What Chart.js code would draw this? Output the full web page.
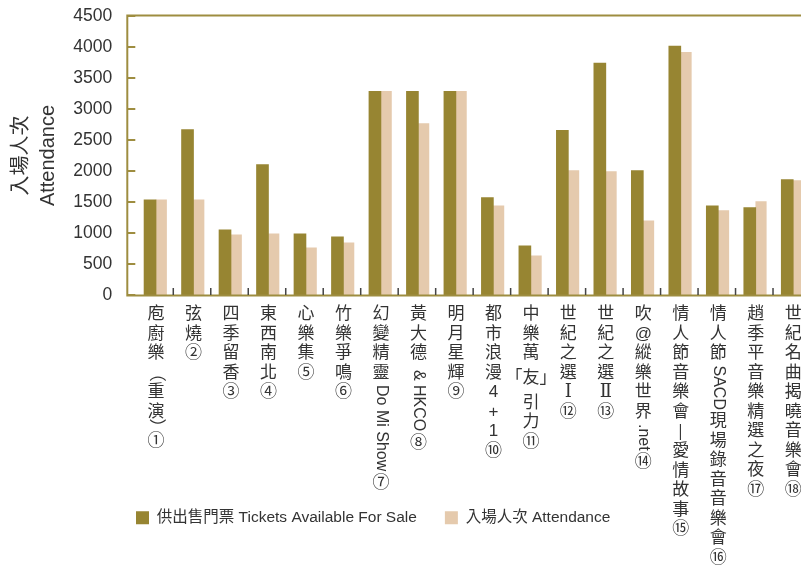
<!DOCTYPE html>
<html lang="zh-Hant">
<head>
<meta charset="utf-8">
<title>入場人次 Attendance</title>
<script src="https://cdn.jsdelivr.net/npm/chart.js@4.4.0/dist/chart.umd.min.js"></script>
<style>
  html, body { margin: 0; padding: 0; background: #fff; overflow: hidden; }
  #wrap { position: relative; width: 812px; height: 567px; }
</style>
</head>
<body>
<div id="wrap"><canvas id="attendanceChart"></canvas></div>
<script>
// ===============================
// 📊 DATA
// ===============================

const categories = [
  "庖廚樂（重演）①", "弦燒②", "四季留香③", "東西南北④", "心樂集⑤", "竹樂爭鳴⑥",
  "幻變精靈Do Mi Show⑦", "黃大德 & HKCO⑧", "明月星輝⑨", "都市浪漫4+1⑩",
  "中樂萬「友」引力⑪", "世紀之選Ⅰ⑫", "世紀之選Ⅱ⑬", "吹@縱樂世界.net⑭",
  "情人節音樂會—愛情故事⑮", "情人節SACD現場錄音音樂會⑯", "趙季平音樂精選之夜⑰", "世紀名曲揭曉音樂會⑱"
];

const ticketsAvailable = [1535, 2670, 1050, 2105, 985, 940, 3285, 3285, 3285, 1570, 795, 2655, 3740, 2005, 4015, 1440, 1410, 1860];
const attendance = [1535, 1535, 970, 985, 760, 840, 3285, 2765, 3285, 1440, 630, 2005, 1990, 1195, 3915, 1360, 1505, 1845];

const seriesNames = ["供出售門票 Tickets Available For Sale", "入場人次 Attendance"];
const axisTitle = ["入場人次", "Attendance"];
const yMax = 4500;
const yStep = 500;

// ===============================
// 🎨 STYLE
// ===============================

const OLIVE = "#978532";
const SAND = "#e5caad";
const FRAME = "#9e8d40";
const TEXT = "#333";
const FONT = "'Liberation Sans', 'Noto Sans CJK TC', sans-serif";
const CJK_FONT = "17px " + FONT;
const LATIN_FONT = "16px " + FONT;
const ROMAN_FONT = "18px 'DejaVu Serif', 'Liberation Serif', serif";

Chart.defaults.font.family = FONT;

// ===============================
// 🔤 VERTICAL LABELS
// ===============================

const SIDEWAYS = /[A-Za-z&. —]/;

function splitLabel(label) {
  const parts = [];
  let i = 0;
  while (i < label.length) {
    const ch = label[i];
    if (ch === "「") {
      const end = label.indexOf("」", i) + 1;
      parts.push({ text: label.slice(i, end), mode: "flat" });
      i = end;
    } else if (ch === "（" || ch === "）") {
      parts.push({ text: ch, mode: "paren" });
      i++;
    } else if (SIDEWAYS.test(ch)) {
      let j = i;
      while (j < label.length && SIDEWAYS.test(label[j])) j++;
      parts.push({ text: label.slice(i, j), mode: "side" });
      i = j;
    } else {
      parts.push({ text: ch, mode: "up" });
      i++;
    }
  }
  return parts;
}

function drawVerticalLabels(chart) {
  const { ctx, chartArea, scales } = chart;
  ctx.save();
  ctx.fillStyle = TEXT;
  ctx.textBaseline = "middle";
  ctx.textAlign = "center";

  categories.forEach((label, i) => {
    const cx = scales.x.getPixelForValue(i);
    let y = chartArea.bottom + 10;

    splitLabel(label).forEach(p => {
      let adv = 19.5;
      if (p.mode === "side" || p.mode === "paren") {
        ctx.font = p.mode === "paren" ? CJK_FONT : LATIN_FONT;
        if (p.mode === "side") adv = ctx.measureText(p.text).width + 4;
        if (p.text === "）") adv = 10;
        ctx.save();
        ctx.translate(cx, y + adv / 2);
        ctx.rotate(Math.PI / 2);
        ctx.fillText(p.text, 0, 0);
        ctx.restore();
      } else {
        if (p.mode === "flat") adv = 30;
        ctx.font = /[Ⅰ-Ⅻ]/.test(p.text) ? ROMAN_FONT : CJK_FONT;
        ctx.fillText(p.text, cx, y + adv / 2);
      }
      y += adv;
    });
  });
  ctx.restore();
}

// ===============================
// 📐 FRAME PLUGIN
// ===============================

const framePlugin = {
  id: "frame",
  afterLayout(chart) {
    // legend sits under the labels, left aligned with the axis
    const lg = chart.legend;
    const w = lg.width, h = lg.height;
    lg.left = 108; lg.right = 108 + w;
    lg.top = 482; lg.bottom = 482 + h;
  },
  afterDraw(chart) {
    const { ctx, chartArea, scales } = chart;
    const axisX = chartArea.left - 10;
    const right = chart.width;

    ctx.save();
    ctx.strokeStyle = FRAME;
    ctx.lineWidth = 2;
    ctx.beginPath();
    ctx.moveTo(axisX, chartArea.top - 0.5);
    ctx.lineTo(axisX, chartArea.bottom + 1);
    ctx.moveTo(axisX - 1, chartArea.top - 0.5);
    ctx.lineTo(right, chartArea.top - 0.5);
    ctx.moveTo(axisX - 1, chartArea.bottom + 0.5);
    ctx.lineTo(right, chartArea.bottom + 0.5);
    ctx.stroke();

    // inner ticks on the value axis
    ctx.beginPath();
    for (let v = 0; v <= yMax; v += yStep) {
      const py = scales.y.getPixelForValue(v);
      ctx.moveTo(axisX, py);
      ctx.lineTo(axisX + 8, py);
    }
    ctx.stroke();

    // small separators between categories
    ctx.strokeStyle = "#444";
    ctx.lineWidth = 1.5;
    ctx.beginPath();
    for (let i = 1; i < categories.length; i++) {
      const bx = (scales.x.getPixelForValue(i - 1) + scales.x.getPixelForValue(i)) / 2 - 1.5;
      ctx.moveTo(bx, chartArea.bottom - 7);
      ctx.lineTo(bx, chartArea.bottom);
    }
    ctx.stroke();
    ctx.restore();

    drawVerticalLabels(chart);
  }
};

// ===============================
// 📊 DRAW CHART
// ===============================

new Chart(document.getElementById("attendanceChart"), {
  type: "bar",
  data: {
    labels: categories,
    datasets: [
      { label: seriesNames[0], data: ticketsAvailable, backgroundColor: OLIVE, borderWidth: 0, barThickness: 12 },
      { label: seriesNames[1], data: attendance, backgroundColor: SAND, borderWidth: 0, barThickness: 10.5 }
    ]
  },
  options: {
    responsive: true,
    maintainAspectRatio: false,
    animation: false,
    layout: { padding: { top: 16, left: 0, right: 0, bottom: 0 } },
    plugins: {
      tooltip: { enabled: false },
      legend: {
        position: "bottom",
        align: "start",
        labels: {
          color: TEXT,
          boxWidth: 13,
          boxHeight: 13,
          padding: 28,
          font: { size: 15.5 }
        }
      }
    },
    scales: {
      x: {
        ticks: { display: false },
        grid: { display: false, drawTicks: false },
        border: { display: false },
        afterFit(scale) { scale.height = 218.5; }
      },
      y: {
        min: 0,
        max: yMax,
        ticks: { stepSize: yStep, padding: 0, color: TEXT, font: { size: 17.5 }, callback: v => String(v) },
        grid: { display: false, drawTicks: true, tickLength: 25 },
        border: { display: false },
        title: {
          display: true,
          text: axisTitle,
          color: TEXT,
          font: { size: 20, lineHeight: 1.35 },
          padding: { top: 7.5, bottom: 0 }
        },
        afterFit(scale) { scale.width = 137.3; }
      }
    }
  },
  plugins: [framePlugin]
});
</script>
</body>
</html>
